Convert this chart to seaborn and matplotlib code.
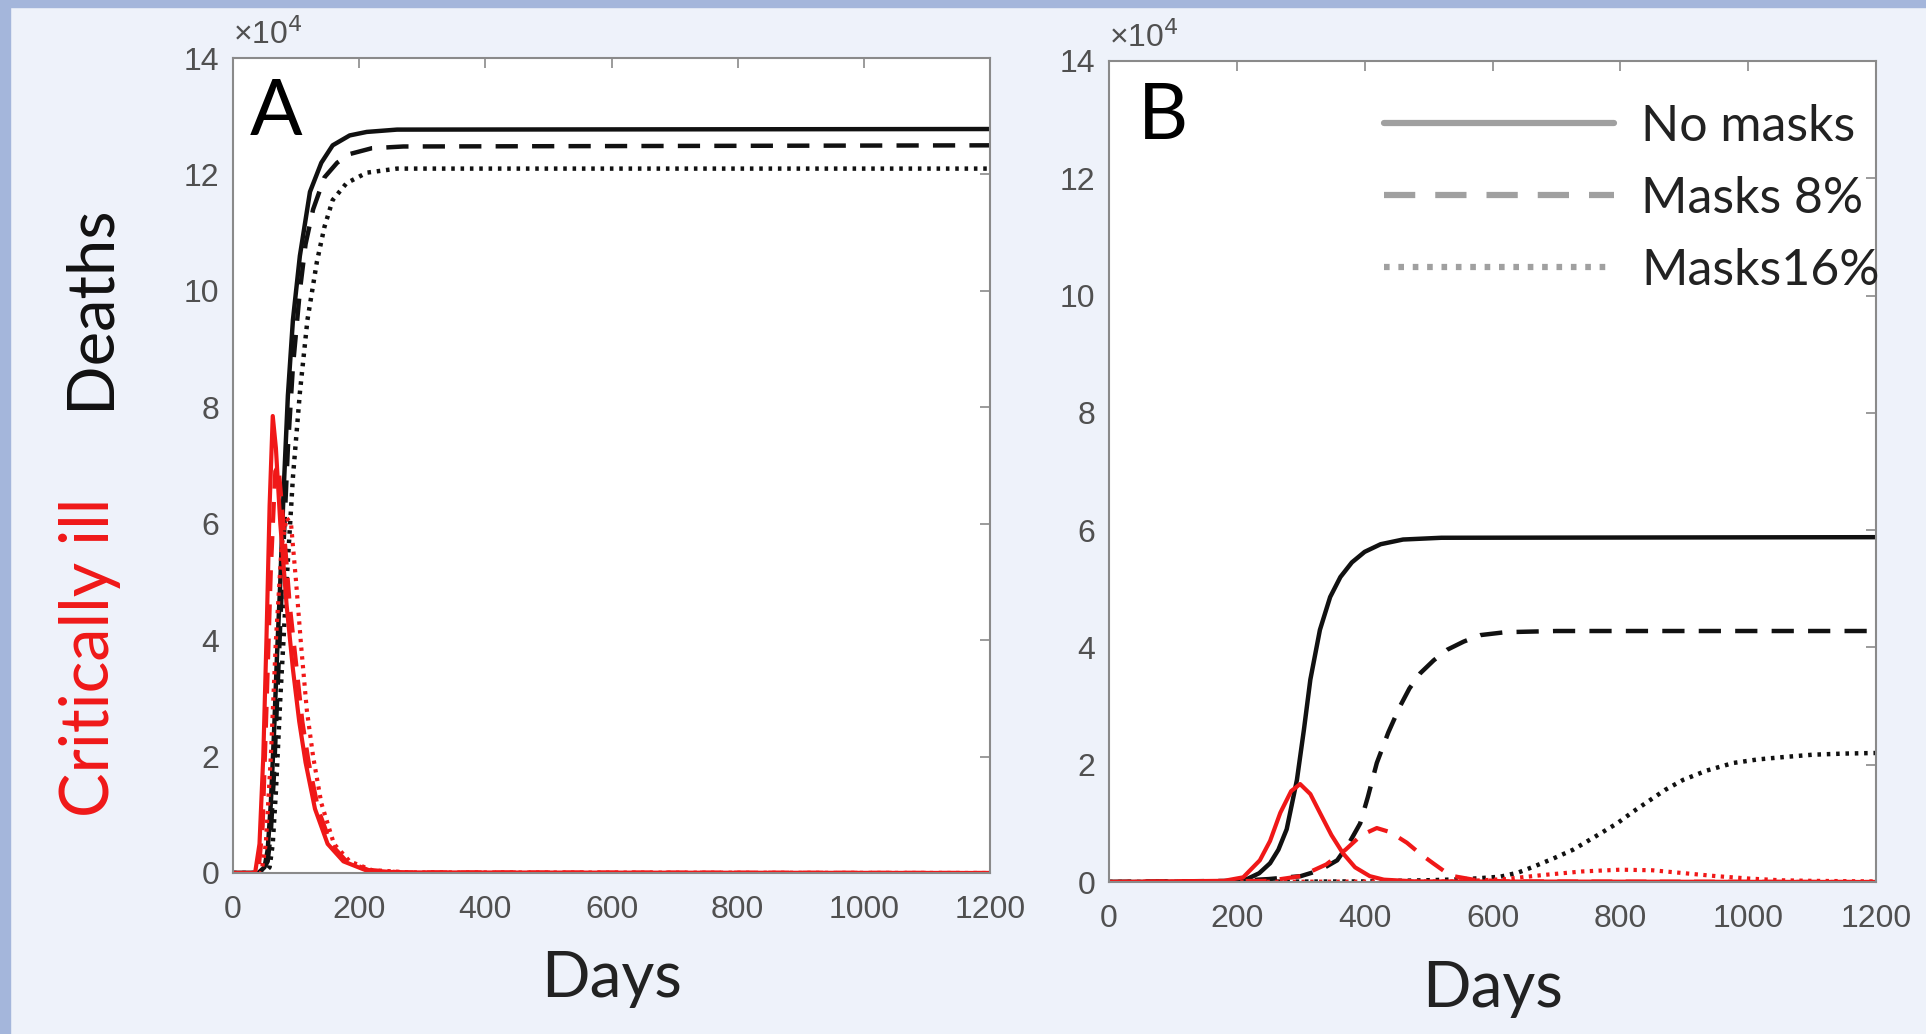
import matplotlib
matplotlib.use("Agg")
import matplotlib.pyplot as plt
from matplotlib.lines import Line2D
from matplotlib.patches import Rectangle
import seaborn as sns
import pandas as pd

# ---------------- data (values in units of 1e4) ----------------
# Panel A - deaths (black)
a_death_none_x = [0, 40, 50, 55, 60, 65, 70, 75, 80, 87, 95, 106, 122, 140, 158, 185, 212, 260, 1200]
a_death_none_y = [0, 0, 0.1, 0.4, 1.2, 2.4, 3.8, 5.0, 6.5, 8.2, 9.5, 10.6, 11.7, 12.2, 12.5, 12.67, 12.73, 12.77, 12.78]
a_death_m8_x = [0, 45, 55, 60, 65, 70, 75, 80, 87, 95, 106, 115, 127, 145, 165, 185, 220, 270, 1200]
a_death_m8_y = [0, 0, 0.2, 0.7, 1.7, 3.0, 4.3, 5.6, 7.3, 8.7, 10.0, 10.8, 11.4, 11.95, 12.2, 12.35, 12.45, 12.48, 12.5]
a_death_m16_x = [0, 50, 58, 63, 68, 75, 85, 95, 106, 118, 133, 145, 158, 180, 212, 260, 1200]
a_death_m16_y = [0, 0, 0.1, 0.5, 1.4, 3.0, 5.0, 6.8, 8.25, 9.5, 10.5, 11.1, 11.56, 11.85, 12.03, 12.1, 12.1]
# Panel A - critically ill (red)
a_crit_none_x = [0, 35, 42, 48, 53, 58, 63, 68, 75, 85, 95, 105, 115, 130, 150, 175, 210, 260, 1200]
a_crit_none_y = [0, 0, 0.5, 2.0, 4.0, 6.3, 7.85, 7.3, 6.0, 4.6, 3.5, 2.6, 1.9, 1.1, 0.5, 0.2, 0.05, 0.01, 0]
a_crit_m8_x = [0, 40, 47, 53, 60, 67, 72, 80, 90, 100, 110, 120, 135, 155, 180, 215, 270, 1200]
a_crit_m8_y = [0, 0, 0.8, 2.8, 5.2, 6.9, 7.0, 6.0, 4.6, 3.6, 2.6, 1.9, 1.1, 0.5, 0.2, 0.05, 0.01, 0]
a_crit_m16_x = [0, 45, 52, 60, 68, 77, 85, 92, 100, 108, 117, 127, 140, 160, 185, 220, 280, 1200]
a_crit_m16_y = [0, 0, 0.5, 2.0, 4.0, 5.6, 6.1, 6.0, 5.0, 3.9, 2.8, 2.0, 1.2, 0.5, 0.2, 0.05, 0.01, 0]

# Panel B - deaths (black)
b_death_none_x = [0, 150, 200, 216, 235, 252, 265, 278, 294, 305, 315, 330, 346, 362, 380, 400, 425, 460, 520, 1200]
b_death_none_y = [0, 0, 0.02, 0.05, 0.15, 0.32, 0.55, 0.9, 1.74, 2.6, 3.45, 4.3, 4.86, 5.2, 5.45, 5.63, 5.76, 5.84, 5.87, 5.88]
b_death_m8_x = [0, 200, 250, 300, 330, 357, 375, 393, 405, 419, 437, 455, 470, 487, 508, 529, 555, 581, 620, 700, 1200]
b_death_m8_y = [0, 0.02, 0.05, 0.1, 0.2, 0.37, 0.65, 1.0, 1.45, 2.03, 2.55, 2.99, 3.3, 3.56, 3.78, 3.96, 4.1, 4.21, 4.26, 4.28, 4.28]
b_death_m16_x = [0, 400, 500, 560, 612, 640, 664, 695, 726, 760, 795, 820, 847, 870, 898, 935, 977, 1015, 1055, 1100, 1150, 1200]
b_death_m16_y = [0, 0.01, 0.03, 0.05, 0.09, 0.16, 0.26, 0.4, 0.55, 0.77, 1.0, 1.2, 1.4, 1.57, 1.74, 1.9, 2.03, 2.09, 2.13, 2.17, 2.19, 2.2]
# Panel B - critically ill (red)
b_crit_none_x = [0, 180, 210, 236, 252, 268, 285, 299, 315, 330, 348, 366, 385, 408, 430, 480, 1200]
b_crit_none_y = [0, 0.02, 0.08, 0.37, 0.7, 1.18, 1.55, 1.67, 1.5, 1.18, 0.8, 0.49, 0.25, 0.1, 0.04, 0.01, 0]
b_crit_m8_x = [0, 250, 300, 340, 370, 395, 419, 440, 466, 487, 507, 525, 539, 570, 620, 1200]
b_crit_m8_y = [0, 0.02, 0.1, 0.3, 0.55, 0.8, 0.92, 0.85, 0.67, 0.48, 0.32, 0.18, 0.1, 0.04, 0.01, 0]
b_crit_m16_x = [0, 550, 620, 680, 740, 800, 850, 900, 950, 1000, 1050, 1100, 1200]
b_crit_m16_y = [0, 0.01, 0.05, 0.12, 0.18, 0.21, 0.2, 0.15, 0.1, 0.06, 0.03, 0.02, 0.01]

x_ticks = [0, 200, 400, 600, 800, 1000, 1200]
y_ticks = [0, 2, 4, 6, 8, 10, 12, 14]
legend_labels = ["No masks", "Masks 8%", "Masks16%"]
panel_labels = ["A", "B"]

# ---------------- styling ----------------
sns.set_style("white")
plt.rcParams["font.family"] = ["Liberation Sans", "DejaVu Sans"]

BG = "#EEF2FA"
BORDER = "#A4B6DB"
TICK_C = "#505050"
FRAME_C = "#8a8a8a"
RED = "#F01818"
BLACK = "#111111"
LABEL_FONT = ["Lato", "DejaVu Sans"]

fig = plt.figure(figsize=(19.26, 10.34), dpi=100, facecolor=BG)
# border on top and left
fig.patches.append(Rectangle((0, 0), 10 / 1926, 1, transform=fig.transFigure, color=BORDER, zorder=0))
fig.patches.append(Rectangle((0, 1 - 7 / 1034), 1, 7 / 1034, transform=fig.transFigure, color=BORDER, zorder=0))

axA = fig.add_axes([233 / 1926, 1 - 873 / 1034, 757 / 1926, 815 / 1034])
axB = fig.add_axes([1109 / 1926, 1 - 882 / 1034, 767 / 1926, 821 / 1034])

ls_solid = "-"
ls_dash = (0, (5.0, 3.2))
ls_dot = (0, (0.8, 1.3))

def draw(ax, series, color, lw):
    for (xs, ys), ls in zip(series, [ls_solid, ls_dash, ls_dot]):
        df = pd.DataFrame({"day": xs, "val": ys})
        sns.lineplot(data=df, x="day", y="val", ax=ax, color=color, linewidth=lw,
                     linestyle=ls, estimator=None, sort=True)

for ax, deaths, crit in [
    (axA, [(a_death_none_x, a_death_none_y), (a_death_m8_x, a_death_m8_y), (a_death_m16_x, a_death_m16_y)],
          [(a_crit_none_x, a_crit_none_y), (a_crit_m8_x, a_crit_m8_y), (a_crit_m16_x, a_crit_m16_y)]),
    (axB, [(b_death_none_x, b_death_none_y), (b_death_m8_x, b_death_m8_y), (b_death_m16_x, b_death_m16_y)],
          [(b_crit_none_x, b_crit_none_y), (b_crit_m8_x, b_crit_m8_y), (b_crit_m16_x, b_crit_m16_y)]),
]:
    draw(ax, deaths, BLACK, 3.2)
    draw(ax, crit, RED, 3.0)
    ax.set_xlim(0, 1200)
    ax.set_ylim(0, 14)
    ax.set_xticks(x_ticks)
    ax.set_yticks(y_ticks)
    ax.set_xticklabels([str(v) for v in x_ticks])
    ax.set_yticklabels([str(v) for v in y_ticks])
    ax.set_xlabel("")
    ax.set_ylabel("")
    ax.set_facecolor("white")
    ax.tick_params(direction="in", length=7, width=1.2, color=FRAME_C, top=True, right=True,
                   labelsize=23, labelcolor=TICK_C)
    ax.tick_params(axis="x", pad=16)
    ax.tick_params(axis="y", pad=10)
    for sp in ax.spines.values():
        sp.set_color(FRAME_C)
        sp.set_linewidth(1.5)
        sp.set_visible(True)
    ax.text(0.0, 1.008, "×10$^{4}$", transform=ax.transAxes, fontsize=23, color=TICK_C,
            ha="left", va="bottom", family=["Liberation Sans", "DejaVu Sans"])
    ax.text(0.5, -0.095, "Days", transform=ax.transAxes, fontsize=46, color="#222222",
            ha="center", va="top", family=LABEL_FONT)

axA.text(0.022, 0.975, panel_labels[0], transform=axA.transAxes, fontsize=56, color="black",
         ha="left", va="top", family=LABEL_FONT)
axB.text(0.038, 0.975, panel_labels[1], transform=axB.transAxes, fontsize=56, color="black",
         ha="left", va="top", family=LABEL_FONT)

# y labels
fig.text(90 / 1926, 1 - 307 / 1034, "Deaths", rotation=90, ha="center", va="center",
         fontsize=47, color="#111111", family=LABEL_FONT)
fig.text(90 / 1926, 1 - 657 / 1034, "Critically ill", rotation=90, ha="center", va="center",
         fontsize=48, color=RED, family=LABEL_FONT)

# legend
LG = "#A0A0A0"
handles = [
    Line2D([], [], color=LG, lw=4.5, linestyle="-"),
    Line2D([], [], color=LG, lw=4.5, linestyle=(0, (5.0, 3.2))),
    Line2D([], [], color=LG, lw=4.5, linestyle=(0, (0.9, 1.4))),
]
leg = axB.legend(handles, legend_labels, loc="upper right", bbox_to_anchor=(1.005, 0.948),
                 frameon=False, handlelength=4.6, handletextpad=0.55,
                 labelspacing=0.52, borderpad=0.0, borderaxespad=0.0,
                 prop={"family": LABEL_FONT, "size": 36})
for t in leg.get_texts():
    t.set_color("#222222")

fig.savefig("out.png", dpi=100, facecolor=BG)
